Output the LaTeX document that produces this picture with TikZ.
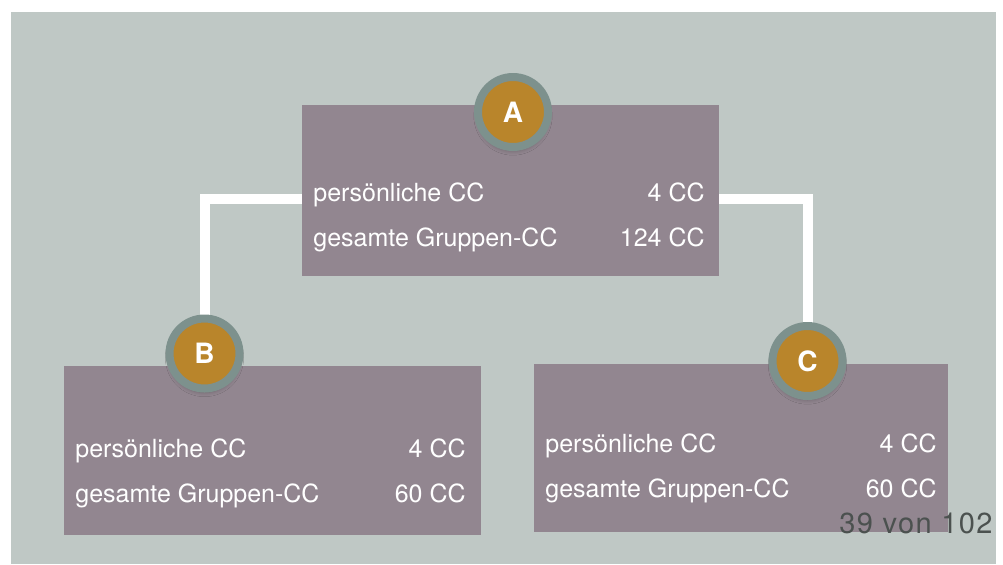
\documentclass[tikz,border=0pt]{standalone}
\usepackage{fontspec}
\setmainfont{TeX Gyre Heros}
\usepackage{tikz}
\usetikzlibrary{shadows.blur}

\definecolor{bgsage}{HTML}{BFC8C5}
\definecolor{boxmauve}{HTML}{928690}
\definecolor{ringgrey}{HTML}{7D918D}
\definecolor{dotgold}{HTML}{B9852B}
\definecolor{pagegrey}{HTML}{4B514F}

\tikzset{
  member/.style={rectangle, fill=boxmauve, inner sep=0pt},
  badge/.style={circle, fill=dotgold, draw=ringgrey, line width=4pt,
    minimum size=35pt, inner sep=0pt, text=white,
    font=\fontsize{14}{16}\selectfont\bfseries,
    blur shadow={shadow xshift=0pt, shadow yshift=-2pt,
      shadow opacity=25, shadow blur steps=6}},
  link/.style={white, line width=5pt},
  txt/.style={text=white, font=\fontsize{12.5}{14}\selectfont, inner sep=0pt},
}

\begin{document}
\begin{tikzpicture}[x=0.5pt, y=-0.5pt]
    \useasboundingbox (0,0) rectangle (1003,564);
    \fill[bgsage] (11,12) rectangle (996,564);% backdrop

    % joints where the links leave box A
    \coordinate (jL) at (302,199);
    \coordinate (jR) at (719,199);

    % the three member boxes
    \node[member, minimum width=208.5pt, minimum height=85.5pt] (boxA) at (510.5,190.5) {};
    \node[member, minimum width=208.5pt, minimum height=84.5pt] (boxB) at (272.5,450.5) {};
    \node[member, minimum width=207pt, minimum height=84pt] (boxC) at (741,448) {};

    % badges sit on the box edges
    \coordinate (pB) at (204.5,353.5);
    \coordinate (pC) at (807.5,361);
    \draw[link] (jL) -| (pB);
    \draw[link] (jR) -| (pC);
    \node[badge] (cA) at (513,112) {A};
    \node[badge] (cB) at (pB) {B};
    \node[badge] (cC) at (pC) {C};

    % box A
    \node[txt, anchor=base west] (persA) at (313,201) {persönliche CC};
    \node[txt, anchor=base east] (persAv) at (705,201) {4 CC};
    \node[txt, anchor=base west] (grpA) at (313,246) {gesamte Gruppen-CC};
    \node[txt, anchor=base east] (grpAv) at (705,246) {124 CC};
    % box B
    \node[txt, anchor=base west] (persB) at (75,457) {persönliche CC};
    \node[txt, anchor=base east] (persBv) at (466,457) {4 CC};
    \node[txt, anchor=base west] (grpB) at (75,502) {gesamte Gruppen-CC};
    \node[txt, anchor=base east] (grpBv) at (466,502) {60 CC};
    % box C
    \node[txt, anchor=base west] (persC) at (545,452) {persönliche CC};
    \node[txt, anchor=base east] (persCv) at (937,452) {4 CC};
    \node[txt, anchor=base west] (grpC) at (545,497) {gesamte Gruppen-CC};
    \node[txt, anchor=base east] (grpCv) at (937,497) {60 CC};

    \node[txt, text=pagegrey, anchor=base east,
      font=\fontsize{14.5}{16}\selectfont\addfontfeature{LetterSpace=5}] (page) at (993,533) {39 von 102};
\end{tikzpicture}
\end{document}
